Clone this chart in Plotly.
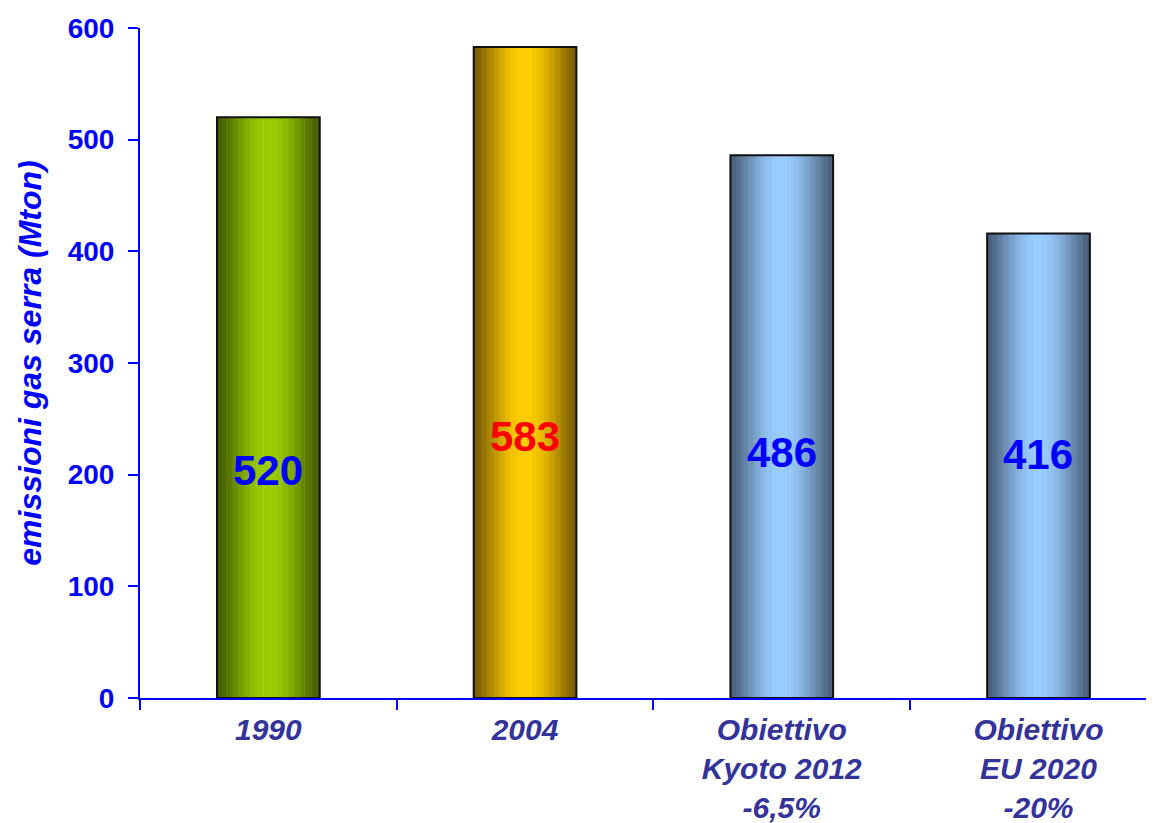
import plotly.graph_objects as go
import numpy as np

categories = ["1990", "2004", "Obiettivo<br>Kyoto 2012<br>-6,5%", "Obiettivo<br>EU 2020<br>-20%"]
values = [520, 583, 486, 416]
label_colors = ["#0000FF", "#FF0000", "#0000FF", "#0000FF"]
label_y = [204, 234, 220, 218]
y_ticks = [0, 100, 200, 300, 400, 500, 600]

# gradient endpoints per bar (edge colour, centre colour)
edge_cols = [(66, 90, 0), (118, 90, 0), (70, 92, 120), (70, 92, 120)]
mid_cols = [(153, 204, 0), (255, 204, 0), (153, 204, 255), (153, 204, 255)]

BAR_W = 0.4
N = 60
sw = BAR_W / N

fig = go.Figure()
for i in range(N):
    t = (i + 0.5) / N
    f = np.sin(np.pi * t) ** 1.3
    cols = []
    for e, m in zip(edge_cols, mid_cols):
        c = [int(round(e[k] + (m[k] - e[k]) * f)) for k in range(3)]
        cols.append(f"rgb({c[0]},{c[1]},{c[2]})")
    fig.add_trace(go.Bar(
        x=categories, y=values, width=sw * 1.3, offset=-BAR_W / 2 + i * sw,
        marker=dict(color=cols, line=dict(width=0)),
        hoverinfo="skip", showlegend=False,
    ))

# outline
fig.add_trace(go.Bar(
    x=categories, y=values, width=BAR_W, offset=-BAR_W / 2,
    marker=dict(color="rgba(0,0,0,0)", line=dict(color="#111111", width=2)),
    showlegend=False, hoverinfo="skip",
))

for idx, (v, col, ly) in enumerate(zip(values, label_colors, label_y)):
    fig.add_annotation(x=idx, y=ly, text=str(v), showarrow=False,
                       font=dict(family="Liberation Sans", size=42, color=col, weight="bold"))

fig.update_layout(
    width=1146, height=815,
    barmode="overlay",
    plot_bgcolor="white", paper_bgcolor="white",
    margin=dict(l=132, r=0, t=20, b=125),
    font=dict(family="Liberation Sans"),
)
fig.update_xaxes(
    range=[-0.5, 3.45], showline=True, linecolor="#0000FF", linewidth=2,
    ticks="outside", tickson="boundaries", ticklen=10, tickcolor="#0000FF", tickwidth=2,
    ticklabelstandoff=4,
    tickfont=dict(family="Liberation Sans", size=30, color="#333399", weight="bold", style="italic"),
    showgrid=False, zeroline=False, automargin=False,
)
fig.update_yaxes(
    range=[0, 600], tickvals=y_ticks, showline=True, linecolor="#0000FF", linewidth=2,
    ticks="outside", ticklen=10, tickcolor="#0000FF", tickwidth=2, ticklabelstandoff=8,
    tickfont=dict(family="Liberation Sans", size=28, color="#0000FF", weight="bold"),
    showgrid=False, zeroline=False, automargin=False,
    title=dict(text="emissioni gas serra (Mton)", standoff=16,
               font=dict(family="Liberation Sans", size=32, color="#0000FF", weight="bold", style="italic")),
)
fig.write_html("out.html")
